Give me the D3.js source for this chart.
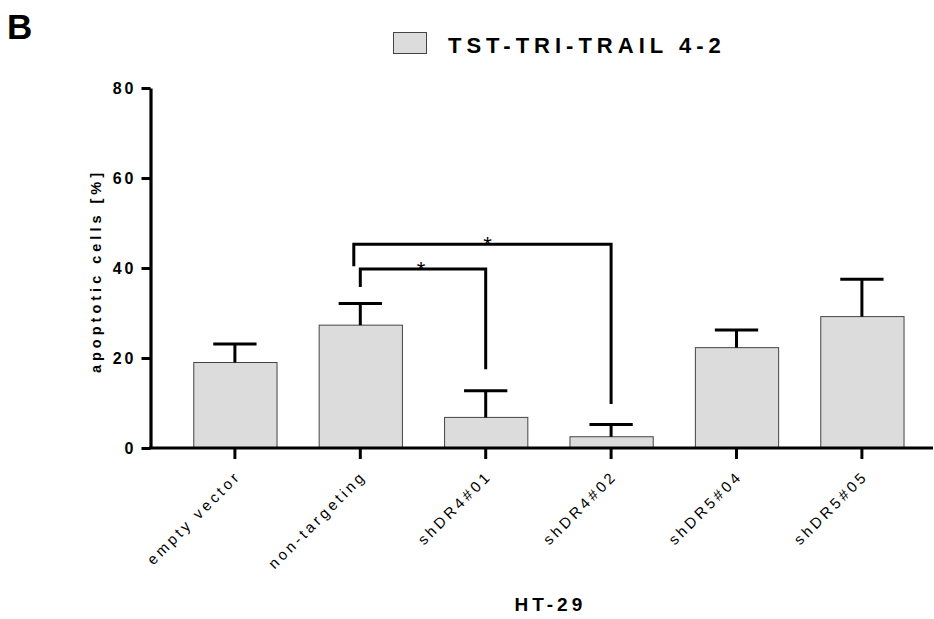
<!DOCTYPE html>
<html>
<head>
<meta charset="utf-8">
<script src="https://cdn.jsdelivr.net/npm/d3@7"></script>
<style>
  body { margin: 0; background: #fff; }
  svg { display: block; font-family: "Liberation Sans", Arial, sans-serif; }
</style>
</head>
<body>
<svg id="chart" width="934" height="619"></svg>
<script>
// data
var categories = ["empty vector", "non-targeting", "shDR4#01", "shDR4#02", "shDR5#04", "shDR5#05"];
var means = [19.0, 27.3, 6.8, 2.5, 22.3, 29.2];
var sdUpper = [4.1, 4.8, 5.9, 2.7, 3.9, 8.3];
var yTicks = [0, 20, 40, 60, 80];
var seriesName = "TST-TRI-TRAIL 4-2";

// significance brackets: [from index, to index], bar height, leg ends
var bracketPairs = [[1, 2], [1, 3]];
var bracketLevel = [39.8, 45.3];
var bracketLeftEnd = [35.8, 40.4];
var bracketRightEnd = [17.5, 9.8];
var bracketMark = ["*", "*"];

var svg = d3.select("#chart");
var axisX = 150.5, baseY = 448;

var y = d3.scaleLinear().domain([0, 80]).range([baseY, 88]);
var x = d3.scaleBand().domain(categories)
    .range([172.2, 924.6])
    .paddingInner(0.336)
    .paddingOuter(0.168);

var bw = x.bandwidth();
var cx = function(i){ return x(categories[i]) + bw / 2; };

// panel letter
svg.append("text")
    .attr("x", 7).attr("y", 39)
    .style("font-size", "35px")
    .style("font-weight", "bold")
    .text("B");

// legend
svg.append("rect")
    .attr("x", 393.5).attr("y", 32.5)
    .attr("width", 33).attr("height", 21)
    .attr("fill", "#dcdcdc")
    .attr("stroke", "#444").attr("stroke-width", 1);
svg.append("text")
    .attr("x", 448).attr("y", 53)
    .style("font-size", "22px")
    .style("font-weight", "bold")
    .style("letter-spacing", "5px")
    .text(seriesName);

// bars
svg.selectAll("rect.bar")
    .data(means)
    .enter().append("rect")
    .attr("class", "bar")
    .attr("x", function(d, i){ return x(categories[i]) + 0.5; })
    .attr("y", function(d){ return y(d); })
    .attr("width", bw)
    .attr("height", function(d){ return baseY - y(d); })
    .attr("fill", "#dcdcdc")
    .attr("stroke", "#444")
    .attr("stroke-width", 1);

// error bars (upper only)
var err = svg.append("g").attr("stroke", "#000").attr("stroke-width", 3);
means.forEach(function(m, i){
    var top = y(m + sdUpper[i]);
    err.append("line")
        .attr("x1", cx(i)).attr("x2", cx(i))
        .attr("y1", y(m)).attr("y2", top);
    err.append("line")
        .attr("x1", cx(i) - bw * 0.26).attr("x2", cx(i) + bw * 0.26)
        .attr("y1", top).attr("y2", top);
});

// y axis
var yAxis = svg.append("g")
    .attr("transform", "translate(" + axisX + ",0)")
    .call(d3.axisLeft(y).tickValues(yTicks).tickSize(9).tickSizeOuter(0).tickPadding(5));
yAxis.select(".domain").attr("stroke-width", 3.2);
yAxis.selectAll(".tick line").attr("stroke-width", 3);
yAxis.selectAll(".tick text")
    .attr("fill", "#000")
    .style("font-size", "16px")
    .style("font-weight", "bold")
    .style("letter-spacing", "3px")
    .style("font-family", "'Liberation Sans', Arial, sans-serif");

// x axis
var xAxis = svg.append("g")
    .attr("transform", "translate(0," + baseY + ")")
    .call(d3.axisBottom(x).tickSize(11).tickSizeOuter(0));
xAxis.select(".domain").remove();
xAxis.append("line")
    .attr("x1", axisX - 1.5).attr("x2", 933)
    .attr("stroke", "#000").attr("stroke-width", 3.2);
xAxis.selectAll(".tick line").attr("stroke-width", 3);
xAxis.selectAll(".tick text")
    .attr("fill", "#000")
    .attr("text-anchor", "end")
    .attr("dy", null)
    .attr("y", 0)
    .attr("transform", "translate(7,29) rotate(-45)")
    .style("font-size", "15px")
    .style("letter-spacing", "3.3px")
    .style("font-family", "'Liberation Sans', Arial, sans-serif");

// significance brackets
var br = svg.append("g").attr("fill", "none").attr("stroke", "#000").attr("stroke-width", 3);
bracketPairs.forEach(function(p, k){
    var x1 = cx(p[0]) - (k === 0 ? 0 : 6.5);
    var x2 = cx(p[1]);
    var path = d3.path();
    path.moveTo(x1, y(bracketLeftEnd[k]));
    path.lineTo(x1, y(bracketLevel[k]));
    path.lineTo(x2, y(bracketLevel[k]));
    path.lineTo(x2, y(bracketRightEnd[k]));
    br.append("path").attr("d", path.toString());
    svg.append("text")
        .attr("x", (x1 + x2) / 2 + (k === 0 ? -2 : 5))
        .attr("y", y(bracketLevel[k]) + 8)
        .attr("text-anchor", "middle")
        .style("font-size", "22px")
        .text(bracketMark[k]);
});

// axis titles
svg.append("text")
    .attr("transform", "translate(101," + ((88 + baseY) / 2 + 3) + ") rotate(-90)")
    .attr("text-anchor", "middle")
    .style("font-size", "14.5px")
    .style("font-weight", "bold")
    .style("letter-spacing", "4px")
    .text("apoptotic cells [%]");

svg.append("text")
    .attr("x", (x.range()[0] + x.range()[1]) / 2 + 2)
    .attr("y", 611)
    .attr("text-anchor", "middle")
    .style("font-size", "19px")
    .style("font-weight", "bold")
    .style("letter-spacing", "4px")
    .text("HT-29");
</script>
</body>
</html>
